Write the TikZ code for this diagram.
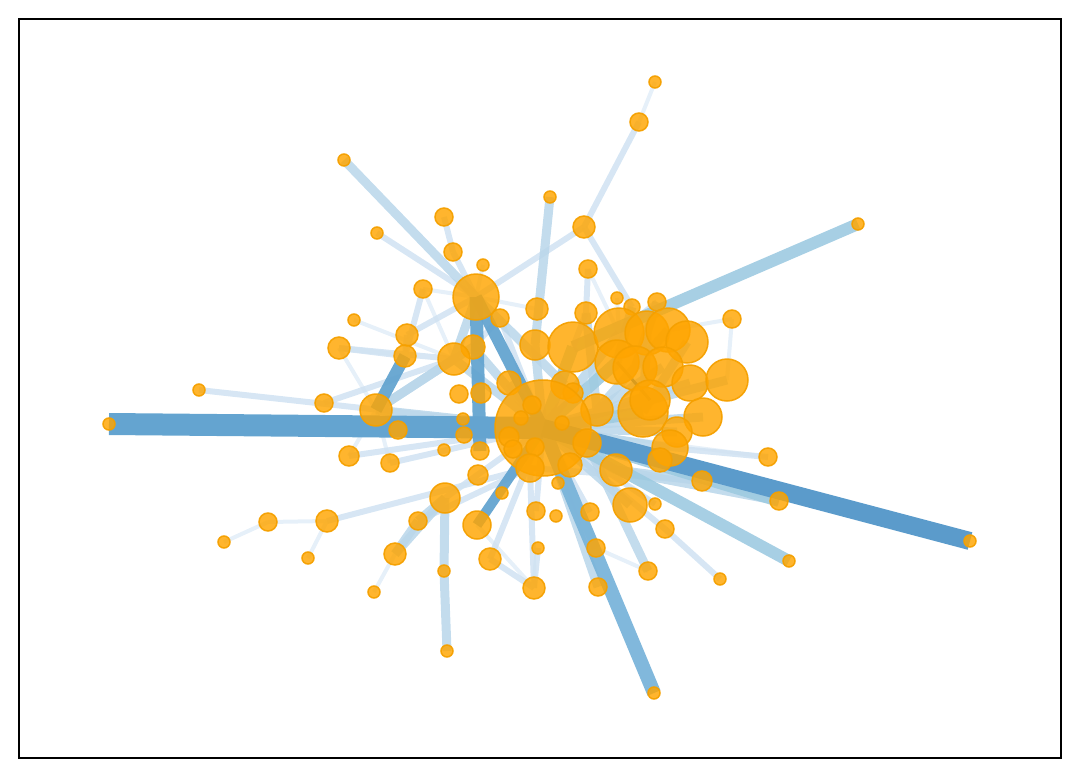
\documentclass[tikz,border=0pt]{standalone}
\usetikzlibrary{backgrounds}
\definecolor{ndor}{HTML}{FFA500}
\definecolor{ndrim}{HTML}{F5A000}
\definecolor{ca}{HTML}{E3EEF8}
\definecolor{cb}{HTML}{D0E2F2}
\definecolor{cc}{HTML}{B9D6EA}
\definecolor{cd}{HTML}{9DCAE1}
\definecolor{ce}{HTML}{7AB4DA}
\definecolor{cf}{HTML}{64A4D0}
\definecolor{cg}{HTML}{5B9BCB}
\definecolor{cnav}{HTML}{2E6EA6}
\tikzset{
  nd/.style={circle,inner sep=0pt,outer sep=0pt,minimum size={#1*2pt},fill=ndor,fill opacity=0.82,draw=ndrim,draw opacity=0.95,line width=1.5pt},
  ea/.style={draw=ca,line width=4pt,line cap=butt,draw opacity=0.9},
  eb/.style={draw=cb,line width=6pt,line cap=butt,draw opacity=0.85},
  ec/.style={draw=cc,line width=9pt,line cap=butt,draw opacity=0.85},
  ed/.style={draw=cd,line width=12pt,line cap=butt,draw opacity=0.9},
  ee/.style={draw=ce,line width=14pt,line cap=butt,draw opacity=0.95},
  ef/.style={draw=cf,line width=20pt,line cap=butt},
  frame/.style={draw=black,line width=1.3pt}
}
\begin{document}
\begin{tikzpicture}[x=1pt,y=-1pt]
\useasboundingbox (0,0) rectangle (1080,777);
% nodes
\node[nd=6] (p1) at (655,82) {};
\node[nd=9] (p2) at (639,122) {};
\node[nd=6] (p3) at (344,160) {};
\node[nd=6] (p4) at (550,197) {};
\node[nd=11] (p5) at (584,227) {};
\node[nd=6] (p6) at (858,224) {};
\node[nd=6] (p7) at (377,233) {};
\node[nd=9] (p8) at (444,217) {};
\node[nd=9] (p9) at (453,252) {};
\node[nd=6] (p10) at (483,265) {};
\node[nd=9] (p11) at (588,269) {};
\node[nd=9] (p12) at (423,289) {};
\node[nd=23] (p13) at (476,297) {};
\node[nd=9] (p14) at (500,318) {};
\node[nd=11] (p15) at (537,309) {};
\node[nd=6] (p16) at (617,298) {};
\node[nd=8] (p17) at (632,307) {};
\node[nd=9] (p18) at (657,302) {};
\node[nd=11] (p19) at (586,313) {};
\node[nd=9] (p20) at (732,319) {};
\node[nd=6] (p21) at (354,320) {};
\node[nd=11] (p22) at (407,335) {};
\node[nd=11] (p23) at (339,348) {};
\node[nd=11] (p24) at (405,356) {};
\node[nd=12] (p25) at (473,347) {};
\node[nd=16] (p26) at (454,359) {};
\node[nd=15] (p27) at (535,345) {};
\node[nd=25] (p28) at (573,347) {};
\node[nd=25] (p29) at (619,333) {};
\node[nd=22] (p30) at (647,333) {};
\node[nd=22] (p31) at (668,330) {};
\node[nd=21] (p32) at (687,342) {};
\node[nd=22] (p33) at (617,362) {};
\node[nd=22] (p34) at (635,368) {};
\node[nd=20] (p35) at (663,367) {};
\node[nd=18] (p36) at (690,383) {};
\node[nd=21] (p37) at (727,380) {};
\node[nd=6] (p38) at (199,390) {};
\node[nd=9] (p39) at (324,403) {};
\node[nd=16] (p40) at (376,410) {};
\node[nd=9] (p41) at (459,394) {};
\node[nd=10] (p42) at (481,393) {};
\node[nd=12] (p43) at (509,383) {};
\node[nd=14] (p44) at (565,385) {};
\node[nd=10] (p45) at (573,393) {};
\node[nd=16] (p46) at (597,410) {};
\node[nd=25] (p47) at (643,412) {};
\node[nd=20] (p48) at (650,400) {};
\node[nd=19] (p49) at (703,417) {};
\node[nd=6] (p50) at (109,424) {};
\node[nd=6] (p51) at (463,419) {};
\node[nd=9] (p52) at (398,430) {};
\node[nd=8] (p53) at (464,435) {};
\node[nd=48] (p54) at (543,428) {};
\node[nd=9] (p55) at (532,405) {};
\node[nd=7] (p56) at (521,418) {};
\node[nd=7] (p57) at (562,423) {};
\node[nd=10] (p58) at (509,437) {};
\node[nd=9] (p59) at (513,449) {};
\node[nd=9] (p60) at (535,447) {};
\node[nd=14] (p61) at (587,443) {};
\node[nd=10] (p62) at (349,456) {};
\node[nd=9] (p63) at (390,463) {};
\node[nd=6] (p64) at (444,450) {};
\node[nd=9] (p65) at (480,451) {};
\node[nd=14] (p66) at (530,468) {};
\node[nd=12] (p67) at (570,465) {};
\node[nd=16] (p68) at (616,470) {};
\node[nd=15] (p69) at (677,432) {};
\node[nd=18] (p70) at (670,448) {};
\node[nd=12] (p71) at (660,460) {};
\node[nd=9] (p72) at (768,457) {};
\node[nd=10] (p73) at (702,481) {};
\node[nd=9] (p74) at (779,501) {};
\node[nd=10] (p75) at (478,475) {};
\node[nd=6] (p76) at (502,493) {};
\node[nd=15] (p77) at (445,498) {};
\node[nd=6] (p78) at (558,483) {};
\node[nd=17] (p79) at (630,505) {};
\node[nd=6] (p80) at (655,504) {};
\node[nd=9] (p81) at (665,529) {};
\node[nd=11] (p82) at (327,521) {};
\node[nd=9] (p83) at (268,522) {};
\node[nd=6] (p84) at (224,542) {};
\node[nd=6] (p85) at (308,558) {};
\node[nd=9] (p86) at (418,521) {};
\node[nd=14] (p87) at (477,525) {};
\node[nd=9] (p88) at (536,511) {};
\node[nd=6] (p89) at (556,516) {};
\node[nd=9] (p90) at (590,512) {};
\node[nd=9] (p91) at (596,548) {};
\node[nd=6] (p92) at (538,548) {};
\node[nd=11] (p93) at (490,559) {};
\node[nd=11] (p94) at (395,554) {};
\node[nd=6] (p95) at (444,571) {};
\node[nd=11] (p96) at (534,588) {};
\node[nd=9] (p97) at (648,571) {};
\node[nd=6] (p98) at (720,579) {};
\node[nd=6] (p99) at (789,561) {};
\node[nd=9] (p100) at (598,587) {};
\node[nd=6] (p101) at (374,592) {};
\node[nd=6] (p102) at (447,651) {};
\node[nd=6] (p103) at (654,693) {};
\node[nd=6] (p104) at (970,541) {};
% edges
\begin{pgfonlayer}{background}
\foreach \a/\b in {2/1,21/26,12/26,23/40,62/40,72/54,20/37,20/31,11/29,10/13,15/13,82/83,83/84,82/85,101/94,97/91,87/96,12/13,63/40,80/54,73/54,74/54,16/29}
  \draw[ea] (p\a.center) -- (p\b.center);
\foreach \a/\b in {8/9,9/13,7/13,5/13,5/2,5/17,11/19,38/54,39/26,23/24,23/26,22/13,72/70,73/66,98/81,81/54,96/92,96/93,96/66,93/54,86/66,82/66,77/54,62/54,63/54,14/54,80/54,90/54,88/54,22/24,25/14,18/29,19/28,12/24}
  \draw[eb] (p\a.center) -- (p\b.center);
\foreach \a/\b in {3/13,4/27,40/26,40/25,74/68,97/61,100/54,102/95,95/77,94/86,86/77,94/77,40/54,26/54,25/54,43/54,27/54,29/54,49/54,37/54,36/54,69/54,70/54,71/54,68/54,79/54,91/54,26/13,17/33,31/46,30/47,32/47,35/46,44/13,73/68,18/34,19/46}
  \draw[ec] (p\a.center) -- (p\b.center);
\foreach \a/\b in {6/28,99/54,28/54,33/54,47/54,74/61}
  \draw[ed] (p\a.center) -- (p\b.center);
\draw[ee] (p103.center) -- (p54.center);
\draw[ee,draw=cf,line width=12pt] (p13.center) -- (p54.center);
\draw[ee,draw=cf,line width=13pt] (p13.center) -- (p65.center);
\draw[ee,draw=cf,line width=12pt] (p40.center) -- (p24.center);
\draw[ee,draw=cf,line width=10pt] (p87.center) -- (p54.center);
\draw[ef,line width=22pt] (p50.center) -- (p54.center);
\draw[ef,draw=cg,line width=18pt] (p104.center) -- (p54.center);
\draw[cnav,line width=3pt] (p33.center) -- (p48.center);
\end{pgfonlayer}
\draw[frame] (19,19) rectangle (1061,758);
\end{tikzpicture}
\end{document}
